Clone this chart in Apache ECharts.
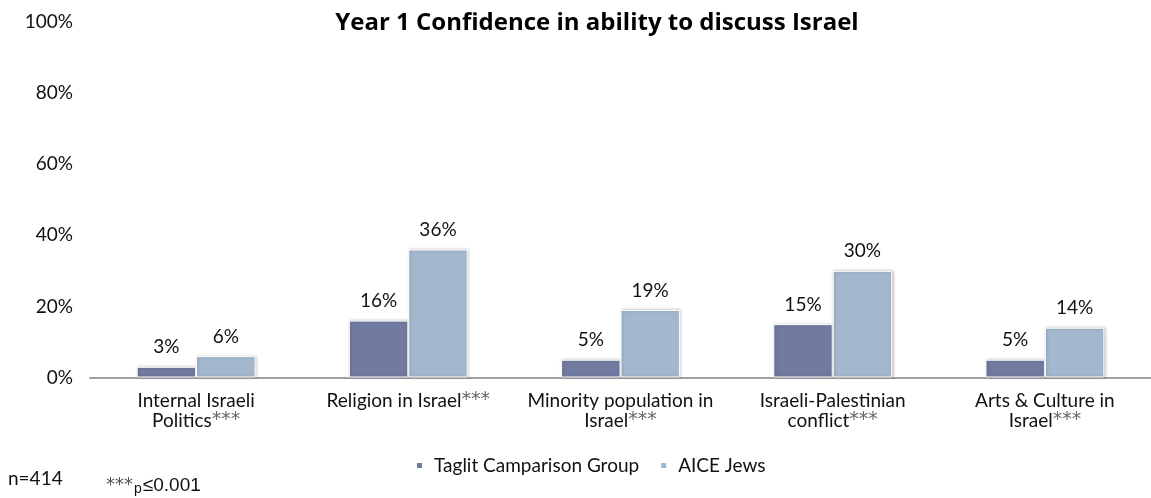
<!DOCTYPE html>
<html>
<head>
<meta charset="utf-8">
<script src="https://cdn.jsdelivr.net/npm/echarts@6/dist/echarts.min.js"></script>
<style>
  html, body { margin: 0; padding: 0; background: #fff; }
  #chart { width: 1151px; height: 498px; }
</style>
</head>
<body>
<div id="chart"></div>
<script>
// Topic categories (significance marker appended when drawn)
const categories = [
  'Internal Israeli\nPolitics',
  'Religion in Israel',
  'Minority population in\nIsrael',
  'Israeli-Palestinian\nconflict',
  'Arts & Culture in\nIsrael'
];
const significance = '***';
const seriesNames = ['Taglit Camparison Group', 'AICE Jews'];
const taglitValues = [3, 16, 5, 15, 5];
const aiceValues = [6, 36, 19, 30, 14];
const yTicks = [0, 20, 40, 60, 80, 100];

const FONT = 'Lato, "Open Sans", sans-serif';
const TITLE_FONT = '"Open Sans", Lato, sans-serif';
const STAR_FONT = '"DejaVu Sans", sans-serif';
const colors = ['#717aa0', '#a3b8cf'];

const chart = echarts.init(document.getElementById('chart'), null, { renderer: 'canvas' });

function barSeries(name, values, color) {
  return {
    name: name,
    type: 'bar',
    data: values,
    barWidth: '28%',
    barGap: '0%',
    itemStyle: {
      color: color,
      borderColor: '#ffffff',
      borderWidth: 1,
      shadowColor: 'rgba(0,0,0,0.25)',
      shadowBlur: 3,
      shadowOffsetX: 1,
      shadowOffsetY: 0
    },
    label: {
      show: true,
      position: 'top',
      distance: 10,
      formatter: p => p.value + '%',
      fontFamily: FONT,
      fontSize: 19,
      color: '#111'
    }
  };
}

chart.setOption({
  animation: false,
  textStyle: { fontFamily: FONT },
  title: {
    text: 'Year 1 Confidence in ability to discuss Israel',
    left: 597,
    textAlign: 'center',
    top: 11,
    padding: 0,
    textStyle: { fontFamily: TITLE_FONT, fontSize: 24, fontWeight: 'bold', color: '#000' }
  },
  grid: { left: 90, right: -8, top: 22, bottom: 120.5, containLabel: false },
  legend: {
    data: seriesNames,
    left: 415,
    top: 456,
    padding: 0,
    itemWidth: 7,
    itemHeight: 7,
    itemGap: 20,
    icon: 'rect',
    textStyle: { fontFamily: FONT, fontSize: 19, color: '#111', padding: [0, 0, 0, 6] }
  },
  xAxis: {
    type: 'category',
    data: categories,
    axisTick: { show: false },
    axisLine: { lineStyle: { color: '#a0a0a0', width: 2 } },
    axisLabel: {
      margin: 13,
      interval: 0,
      fontFamily: FONT,
      fontSize: 19,
      lineHeight: 20,
      color: '#111',
      formatter: v => v + '{s|' + significance + '}',
      rich: {
        s: { fontFamily: STAR_FONT, fontSize: 19, color: '#666', verticalAlign: 'top', lineHeight: 20 }
      }
    }
  },
  yAxis: {
    type: 'value',
    min: 0,
    max: 100,
    interval: 20,
    splitLine: { show: false },
    axisLine: { show: false },
    axisTick: { show: false },
    axisLabel: {
      margin: 17,
      fontFamily: FONT,
      fontSize: 19,
      color: '#111',
      formatter: v => (yTicks.includes(v) ? v + '%' : '')
    }
  },
  series: [
    barSeries(seriesNames[0], taglitValues, colors[0]),
    barSeries(seriesNames[1], aiceValues, colors[1])
  ],
  graphic: [
    {
      type: 'text',
      left: 8,
      top: 469,
      style: { text: 'n=414', fontFamily: FONT, fontSize: 19, fill: '#111' }
    },
    {
      type: 'text',
      left: 106,
      top: 476,
      style: {
        text: '{a|***}{p|p}{t|≤0.001}',
        fontFamily: FONT,
        rich: {
          a: { fontFamily: STAR_FONT, fontSize: 18, fill: '#555', verticalAlign: 'top', lineHeight: 20 },
          p: { fontSize: 14, fill: '#111', verticalAlign: 'bottom', lineHeight: 20, padding: [0, 1, 0, 1] },
          t: { fontSize: 19, fill: '#111', lineHeight: 20 }
        }
      }
    }
  ]
});
</script>
</body>
</html>
